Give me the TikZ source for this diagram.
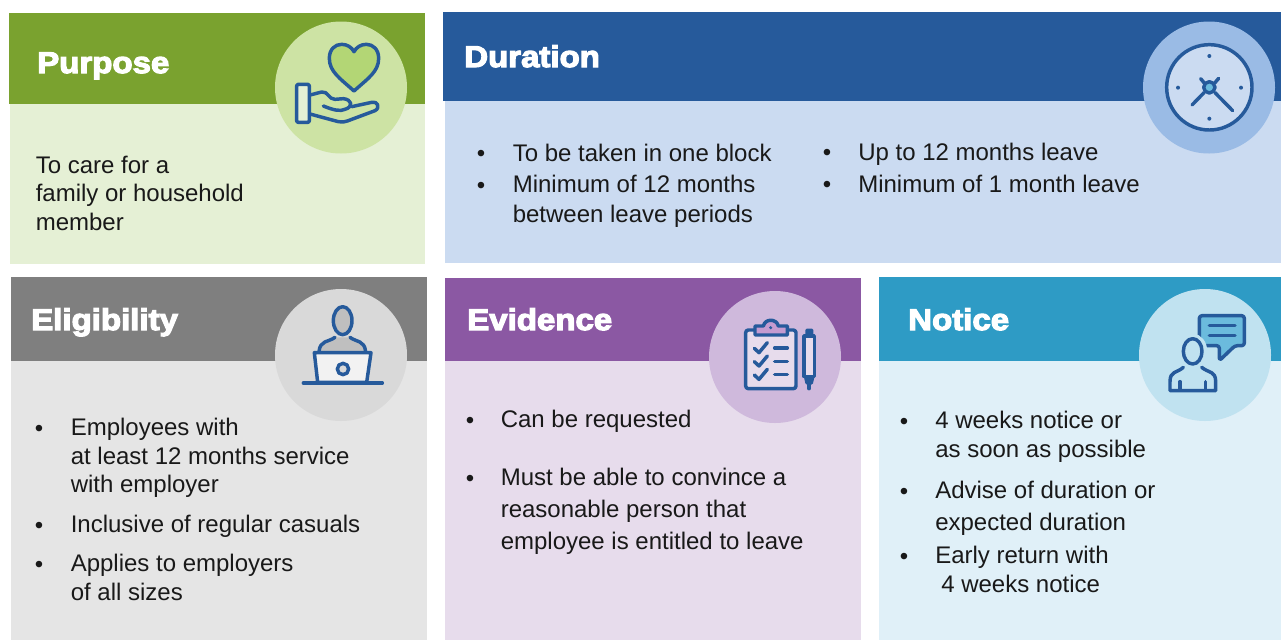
\documentclass[tikz,border=0pt]{standalone}
\usepackage{fontspec}
\setmainfont{Liberation Sans}
\newfontfamily\titlefont[FakeBold=4,FakeStretch=1.1]{Liberation Sans Bold}
\definecolor{iconblue}{HTML}{265A9B}
\definecolor{grnH}{HTML}{7AA22F}\definecolor{grnB}{HTML}{E5F0D5}\definecolor{grnC}{HTML}{CDE3A4}\definecolor{grnF}{HTML}{B3D675}
\definecolor{bluH}{HTML}{265A9B}\definecolor{bluB}{HTML}{CBDBF1}\definecolor{bluC}{HTML}{9ABBE5}
\definecolor{gryH}{HTML}{7F7F7F}\definecolor{gryB}{HTML}{E5E5E5}\definecolor{gryC}{HTML}{D9D9D9}\definecolor{gryF}{HTML}{BFBFBF}
\definecolor{purH}{HTML}{8B58A3}\definecolor{purB}{HTML}{E7DCEC}\definecolor{purC}{HTML}{CFB9DC}\definecolor{purF}{HTML}{C49BD0}
\definecolor{teaH}{HTML}{2E9BC5}\definecolor{teaB}{HTML}{E0F0F8}\definecolor{teaC}{HTML}{C0E2F0}\definecolor{teaF}{HTML}{6BBBDD}
\tikzset{
  title/.style={anchor=base west,inner sep=0pt,text=white,font=\titlefont\fontsize{22.5}{26}\selectfont},
  txt/.style={anchor=north west,inner sep=0pt,align=left,text=black!90,font=\fontsize{18}{#1}\selectfont},
  txt/.default=21.6,
  bul/.style={anchor=base,inner sep=0pt,text=black!90,font=\fontsize{18}{20}\selectfont},
  ico/.style={draw=iconblue,line width=2.6pt,line cap=round,line join=round},
  zoomed/.style={shift={(#1)},x=0.25pt,y=-0.25pt},
}
\begin{document}
\begin{tikzpicture}[x=0.75pt,y=-0.75pt]
\useasboundingbox (0,0) rectangle (1281,640);
\fill[white] (0,0) rectangle (1281,640);
% panels
\fill[grnB] (10,104) rectangle (425,264);
\fill[grnH] (9,13) rectangle (425,104);
\fill[bluB] (445,101) rectangle (1281,263);
\fill[bluH] (443,12) rectangle (1281,101);
\fill[gryB] (11,361) rectangle (427,640);
\fill[gryH] (11,277) rectangle (427,361);
\fill[purB] (445,361) rectangle (861,640);
\fill[purH] (445,278) rectangle (861,361);
\fill[teaB] (879,361) rectangle (1281,640);
\fill[teaH] (879,277) rectangle (1281,361);
% circles
\fill[grnC] (341,87.5) circle (66);
\fill[bluC] (1209,87.5) circle (66);
\fill[gryC] (341,355) circle (66);
\fill[purC] (775,357) circle (66);
\fill[teaC] (1205,355) circle (66);
% titles
\node[title] (tPurpose) at (37,73) {Purpose};
\node[title] (tDuration) at (464,67) {Duration};
\node[title] (tEligibility) at (31,330) {Eligibility};
\node[title] (tEvidence) at (467,330) {Evidence};
\node[title] (tNotice) at (908,330) {Notice};
% purpose text
\node[txt=21.4] (p1) at (35.5,155.5) {To care for a\\family or household\\member};
% duration text
\node[bul] (db1) at (481,161) {•};
\node[txt] (d1) at (512.5,143.5) {To be taken in one block};
\node[bul] (db2) at (481,193) {•};
\node[txt=22.5] (d2) at (512.5,175) {Minimum of 12 months\\between leave periods};
\node[bul] (db3) at (827,160) {•};
\node[txt] (d3) at (858,143) {Up to 12 months leave};
\node[bul] (db4) at (827,192) {•};
\node[txt] (d4) at (858,175) {Minimum of 1 month leave};
% eligibility text
\node[bul] (eb1) at (39,436) {•};
\node[txt=21.4] (e1) at (70.5,418) {Employees with\\at least 12 months service\\with employer};
\node[bul] (eb2) at (39,533) {•};
\node[txt] (e2) at (70.5,515) {Inclusive of regular casuals};
\node[bul] (eb3) at (39,572) {•};
\node[txt=21.4] (e3) at (70.5,554) {Applies to employers\\of all sizes};
% evidence text
\node[bul] (vb1) at (470,428) {•};
\node[txt] (v1) at (500.5,410) {Can be requested};
\node[bul] (vb2) at (470,486) {•};
\node[txt=24] (v2) at (500.5,468) {Must be able to convince a\\reasonable person that\\employee is entitled to leave};
% notice text
\node[bul] (nb1) at (904,429) {•};
\node[txt=21.8] (n1) at (935,411) {4 weeks notice or\\as soon as possible};
\node[bul] (nb2) at (904,499) {•};
\node[txt=24] (n2) at (935,481) {Advise of duration or\\expected duration};
\node[bul] (nb3) at (904,564) {•};
\node[txt=21.8] (n3) at (935,546) {Early return with\\\hspace*{4.5pt}4 weeks notice};
% heart-and-hand icon
\begin{scope}[zoomed={260,10}]
\draw[ico,fill=grnF] (282,243) .. controls (240,205) and (208,185) .. (208,145) .. controls (208,118) and (225,103) .. (245,103) .. controls (262,103) and (275,112) .. (282,125) .. controls (289,112) and (302,103) .. (319,103) .. controls (339,103) and (356,118) .. (356,145) .. controls (356,185) and (324,205) .. (282,243) -- cycle;
\draw[ico,fill=grnB,rounded corners=1pt] (110,223) rectangle (148,337);
\draw[ico] (150,255) -- (185,246) .. controls (205,243) and (205,268) .. (225,268) -- (250,266) .. controls (275,268) and (282,290) .. (255,298) .. controls (240,304) and (225,302) .. (190,288);
\draw[ico] (150,312) -- (235,335) .. controls (245,337) and (255,336) .. (262,333) -- (345,302) .. controls (362,293) and (352,272) .. (335,277) -- (275,290);
\end{scope}
% clock icon
\begin{scope}[zoomed={1130,10}]
\draw[ico,fill=bluB] (238,232) circle (128);
\foreach \p in {(238,138),(144,233),(333,233),(238,326)} \fill[iconblue] \p circle (6);
\draw[ico] (222,218) -- (212,206) (255,218) -- (266,205) (222,248) -- (186,285) (255,248) -- (308,302);
\draw[ico,fill=teaF] (238,232) circle (17);
\end{scope}
% person at laptop icon
\begin{scope}[zoomed={265,280}]
\fill[gryF] (210,172) .. controls (190,187) and (165,180) .. (162,218) -- (300,218) .. controls (298,180) and (275,187) .. (255,172) -- cycle;
\draw[ico,fill=gryF] (233,122) ellipse (28 and 42);
\draw[ico] (210,172) .. controls (190,187) and (165,180) .. (162,215);
\draw[ico] (255,172) .. controls (275,187) and (298,180) .. (302,215);
\draw[ico,fill=gray!10] (148,218) -- (318,218) -- (305,307) -- (158,307) -- cycle;
\draw[ico] (115,309) -- (352,309);
\draw[ico,fill=gryC] (234,267) circle (17);
\end{scope}
% clipboard and pen icon
\begin{scope}[zoomed={700,280}]
\draw[ico,fill=purB,rounded corners=2pt] (137,150) rectangle (288,326);
\draw[ico,fill=purF] (165,138) -- (190,138) .. controls (195,115) and (230,115) .. (235,138) -- (262,138) -- (262,165) -- (165,165) -- cycle;
\fill[iconblue] (212,143) circle (5);
\foreach \d in {0,40,80} {
  \draw[ico] (163,205+\d) -- (177,218+\d) -- (202,188+\d);
  \draw[ico] (224,204+\d) -- (262,204+\d);
}
\draw[ico,fill=purB] (312,168) rectangle (343,290);
\fill[iconblue,rounded corners=1pt] (316,146) rectangle (340,170);
\fill[iconblue,rounded corners=1pt] (311,288) -- (344,288) -- (338,314) -- (317,314) -- cycle;
\draw[ico] (327,312) -- (327,326);
\end{scope}
% speaking person icon
\begin{scope}[zoomed={1130,280}]
\draw[ico,fill=teaF,rounded corners=2pt] (208,107) -- (343,107) -- (343,197) -- (315,197) -- (268,242) -- (268,197) -- (208,197) -- cycle;
\draw[ico] (238,137) -- (315,137) (238,167) -- (315,167);
\draw[line width=3.4pt,draw=teaC,fill=teaC] (188,214) ellipse (37 and 46);
\draw[ico,fill=teaC] (188,214) ellipse (28 and 38);
\draw[ico] (160,262) .. controls (140,280) and (120,272) .. (120,305) -- (120,332) -- (257,332) -- (257,305) .. controls (257,272) and (237,280) .. (215,262);
\draw[ico] (150,305) -- (150,330) (226,305) -- (226,330);
\end{scope}
\end{tikzpicture}
\end{document}
